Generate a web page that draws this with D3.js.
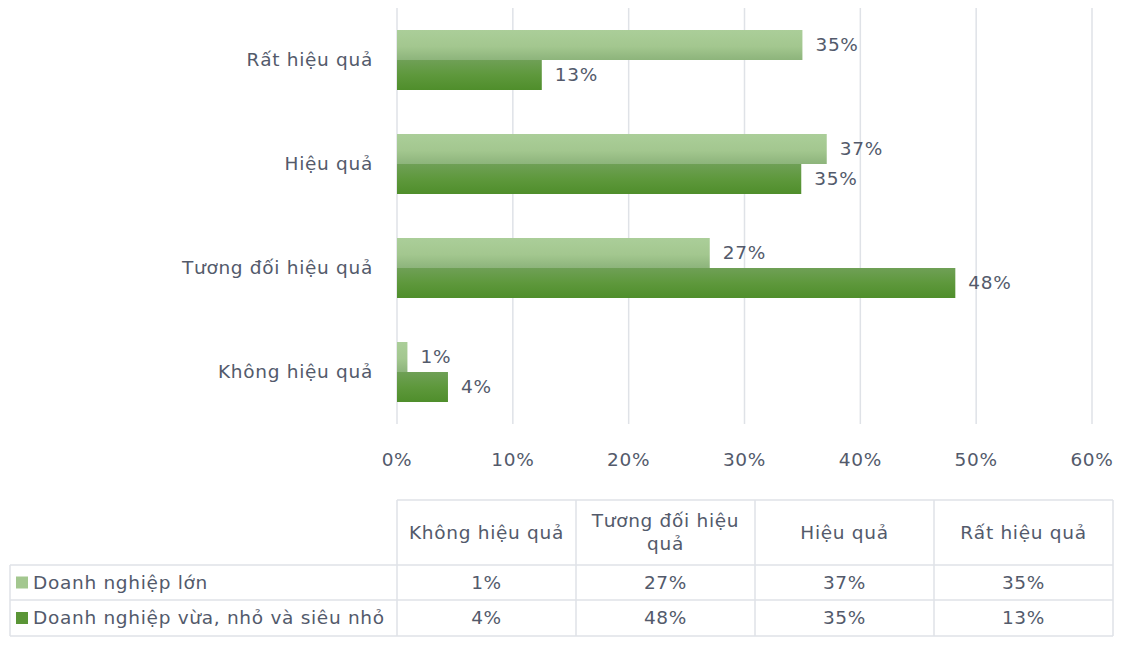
<!DOCTYPE html>
<html>
<head>
<meta charset="utf-8">
<script src="https://cdn.jsdelivr.net/npm/d3@7"></script>
<style>
  body { margin: 0; background: #fff; }
  svg text { font-family: "DejaVu Sans", sans-serif; fill: #535a6b; font-size: 18.5px; letter-spacing: 0.7px; }
</style>
</head>
<body>
<svg id="chart" width="1123" height="648"></svg>
<script>
// categories in table order (chart draws them bottom to top)
const categories = ["Không hiệu quả", "Tương đối hiệu quả", "Hiệu quả", "Rất hiệu quả"];
const seriesNames = ["Doanh nghiệp lớn", "Doanh nghiệp vừa, nhỏ và siêu nhỏ"];
const largeValues = [0.9, 27.0, 37.1, 35.0];
const smallValues = [4.4, 48.2, 34.9, 12.5];
const xTicks = [0, 10, 20, 30, 40, 50, 60];

const series = [largeValues, smallValues];
const fmt = v => Math.round(v) + "%";

const svg = d3.select("#chart");

const x = d3.scaleLinear().domain([0, 60]).range([397, 1092]);
const y = d3.scaleBand()
    .domain(categories.slice().reverse())
    .range([8, 424])
    .paddingInner(0.4231)
    .paddingOuter(0.2115);
const ySub = d3.scaleBand().domain([0, 1]).range([0, y.bandwidth()]);

// gradients for the two series
const defs = svg.append("defs");
const gradStops = [
    [["0%", "#abce99"], ["55%", "#a3c78f"], ["100%", "#8db47b"]],
    [["0%", "#6fa056"], ["50%", "#5e983c"], ["100%", "#4f8e2b"]]
];
gradStops.forEach((stops, i) => {
    const g = defs.append("linearGradient")
        .attr("id", "grad" + i)
        .attr("x1", 0).attr("y1", 0).attr("x2", 0).attr("y2", 1);
    stops.forEach(s => g.append("stop").attr("offset", s[0]).attr("stop-color", s[1]));
});
const swatchColors = ["#a3c78f", "#5a9536"];

// gridlines
svg.append("g")
    .selectAll("line")
    .data(xTicks)
    .join("line")
    .attr("x1", d => x(d)).attr("x2", d => x(d))
    .attr("y1", 8).attr("y2", 424)
    .attr("stroke", "#dfe2e7")
    .attr("stroke-width", 1.5);

// tick labels
svg.append("g")
    .selectAll("text")
    .data(xTicks)
    .join("text")
    .attr("x", d => x(d))
    .attr("y", 460)
    .attr("dy", "0.35em")
    .attr("text-anchor", "middle")
    .text(d => d + "%");

// category labels
svg.append("g")
    .selectAll("text")
    .data(categories)
    .join("text")
    .attr("x", 373)
    .attr("y", d => y(d) + y.bandwidth() / 2)
    .attr("dy", "0.35em")
    .attr("text-anchor", "end")
    .text(d => d);

// bars
series.forEach((vals, si) => {
    const g = svg.append("g");
    g.selectAll("rect")
        .data(vals)
        .join("rect")
        .attr("x", x(0))
        .attr("y", (d, i) => y(categories[i]) + ySub(si))
        .attr("width", d => x(d) - x(0))
        .attr("height", ySub.bandwidth())
        .attr("fill", `url(#grad${si})`);
    g.selectAll("text")
        .data(vals)
        .join("text")
        .attr("x", d => x(d) + 13)
        .attr("y", (d, i) => y(categories[i]) + ySub(si) + ySub.bandwidth() / 2)
        .attr("dy", "0.35em")
        .text(d => fmt(d));
});

// data table
const colX = d3.scaleBand().domain(categories).range([397, 1113]);
const tableLeft = 10;
const rowTops = [500, 565, 600, 636];
const border = "#dfe2e7";
const table = svg.append("g");

// horizontal lines
table.append("line")
    .attr("x1", 397).attr("x2", 1113).attr("y1", rowTops[0]).attr("y2", rowTops[0])
    .attr("stroke", border).attr("stroke-width", 1.5);
table.selectAll("line.h")
    .data(rowTops.slice(1))
    .join("line")
    .attr("class", "h")
    .attr("x1", tableLeft).attr("x2", 1113)
    .attr("y1", d => d).attr("y2", d => d)
    .attr("stroke", border).attr("stroke-width", 1.5);
// vertical lines
table.append("line")
    .attr("x1", tableLeft).attr("x2", tableLeft).attr("y1", rowTops[1]).attr("y2", rowTops[3])
    .attr("stroke", border).attr("stroke-width", 1.5);
table.selectAll("line.v")
    .data(categories.map(c => colX(c)).concat([1113]))
    .join("line")
    .attr("class", "v")
    .attr("x1", d => d).attr("x2", d => d)
    .attr("y1", rowTops[0]).attr("y2", rowTops[3])
    .attr("stroke", border).attr("stroke-width", 1.5);

// header cells with wrap
categories.forEach(c => {
    const cx = colX(c) + colX.bandwidth() / 2;
    const words = c.split(" ");
    const lines = [];
    let line = [];
    const probe = table.append("text");
    words.forEach(w => {
        const test = line.concat([w]).join(" ");
        probe.text(test);
        if (probe.node().getComputedTextLength() > colX.bandwidth() - 8 && line.length) {
            lines.push(line.join(" "));
            line = [w];
        } else {
            line.push(w);
        }
    });
    lines.push(line.join(" "));
    probe.remove();
    const mid = (rowTops[0] + rowTops[1]) / 2;
    const lh = 23;
    table.append("g")
        .selectAll("text")
        .data(lines)
        .join("text")
        .attr("x", cx)
        .attr("y", (d, i) => mid + (i - (lines.length - 1) / 2) * lh)
        .attr("dy", "0.35em")
        .attr("text-anchor", "middle")
        .text(d => d);
});

// body rows
series.forEach((vals, si) => {
    const mid = (rowTops[si + 1] + rowTops[si + 2]) / 2;
    table.append("rect")
        .attr("x", 16).attr("y", mid - 6)
        .attr("width", 12).attr("height", 12)
        .attr("fill", swatchColors[si]);
    table.append("text")
        .attr("x", 33).attr("y", mid)
        .attr("dy", "0.35em")
        .text(seriesNames[si]);
    table.append("g")
        .selectAll("text")
        .data(vals)
        .join("text")
        .attr("x", (d, i) => colX(categories[i]) + colX.bandwidth() / 2)
        .attr("y", mid)
        .attr("dy", "0.35em")
        .attr("text-anchor", "middle")
        .text(d => fmt(d));
});
</script>
</body>
</html>
